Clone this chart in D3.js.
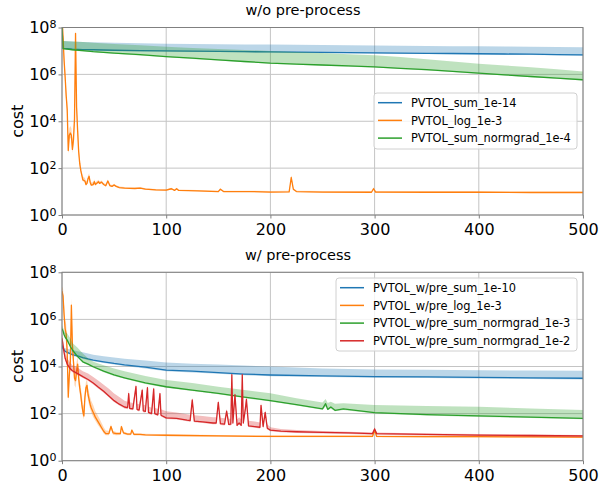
<!DOCTYPE html>
<html lang="en">
<head>
<meta charset="UTF-8" />
<title>PVTOL cost</title>
<script src="https://cdn.jsdelivr.net/npm/d3@7"></script>
<style>
  body { margin: 0; background: #fff; }
  svg text { font-family: "DejaVu Sans", sans-serif; fill: #000; }
</style>
</head>
<body>
<svg id="chart" width="600" height="486"></svg>
<script>
// ticks
var xTicks = [0, 100, 200, 300, 400, 500];
var yTickExp = [0, 2, 4, 6, 8];

// ---- w/o pre-process (values are log10 of cost) ----
var topSumX = [0,1,5,10,20,30,50,75,100,125,150,175,200,225,250,275,300,325,350,375,400,425,450,475,500];
var topSumMean = [8.0,7.11,7.1,7.08,7.06,7.05,7.03,7.01,7.0,6.99,6.98,6.97,6.96,6.95,6.94,6.93,6.92,6.91,6.90,6.89,6.88,6.87,6.86,6.845,6.83];
var topSumLo = [8.0,7.08,7.07,7.05,7.03,7.02,7.0,6.98,6.97,6.96,6.95,6.94,6.93,6.92,6.91,6.9,6.89,6.88,6.87,6.86,6.85,6.84,6.83,6.815,6.8];
var topSumHi = [8.0,7.42,7.41,7.4,7.38,7.37,7.35,7.33,7.31,7.3,7.29,7.28,7.27,7.26,7.25,7.24,7.23,7.22,7.21,7.2,7.2,7.19,7.18,7.17,7.16];

var topLogX = [0,1,2,3,4,5,6,7,8,9,10,11,12,13,14,15,16,17,18,19,20,
  22,23,24,25,26,27,28,30,31,32,34,35,36,38,40,42,44,46,48,50,52,55,60,
  70,75,80,90,100,105,108,110,112,130,150,152,155,180,200,218,220,222,225,250,
  297,299,301,350,400,450,500];
var topLogMean = [8.5,7.6,6.6,5.9,5.1,4.5,2.75,3.4,3.5,3.4,2.8,3.2,4.1,7.75,4.6,3.6,2.7,2.2,1.9,1.7,1.5,
  1.45,1.3,1.35,1.55,1.65,1.4,1.28,1.3,1.42,1.3,1.38,1.42,1.35,1.4,1.3,1.25,1.45,1.25,1.22,1.28,1.22,1.17,1.15,
  1.13,1.15,1.1,1.07,1.06,1.12,1.05,1.12,1.05,1.03,1.0,1.1,1.0,1.0,0.98,0.99,1.6,1.1,1.0,0.98,
  0.97,1.12,0.98,0.97,0.97,0.96,0.96];
var topLogHi = [8.5,7.8,6.9,6.2,5.4,4.8,3.2,3.7,3.8,3.7,3.2,3.5,4.5,7.9,5.0,4.0,3.0,2.45,2.1,1.85,1.65,
  1.58,1.43,1.48,1.68,1.78,1.52,1.4,1.4,1.52,1.4,1.46,1.5,1.43,1.47,1.37,1.32,1.52,1.31,1.28,1.33,1.27,1.22,1.2,
  1.17,1.19,1.14,1.11,1.1,1.16,1.09,1.16,1.09,1.07,1.04,1.14,1.04,1.04,1.02,1.03,1.7,1.15,1.04,1.02,
  1.01,1.18,1.02,1.01,1.01,1.0,1.0];
var topLogLo = [8.4,7.4,6.3,5.6,4.8,4.2,2.6,3.2,3.3,3.2,2.65,3.0,3.8,7.5,4.3,3.4,2.55,2.1,1.82,1.63,1.44,
  1.4,1.25,1.3,1.48,1.58,1.35,1.24,1.26,1.37,1.26,1.34,1.37,1.31,1.35,1.27,1.22,1.4,1.22,1.19,1.24,1.19,1.14,1.13,
  1.11,1.13,1.08,1.05,1.04,1.09,1.03,1.09,1.03,1.01,0.98,1.07,0.98,0.98,0.96,0.97,1.5,1.07,0.98,0.96,
  0.95,1.08,0.96,0.95,0.95,0.94,0.94];

var topNgMean = [8.0,7.1,7.08,7.05,7.01,6.97,6.91,6.84,6.76,6.69,6.62,6.55,6.48,6.44,6.40,6.36,6.32,6.26,6.2,6.13,6.05,5.98,5.91,5.84,5.77];
var topNgLo = [8.0,7.07,7.05,7.02,6.98,6.94,6.88,6.81,6.73,6.66,6.59,6.52,6.45,6.41,6.37,6.33,6.29,6.23,6.17,6.1,6.02,5.95,5.88,5.81,5.74];
var topNgHi = [8.0,7.42,7.41,7.4,7.38,7.35,7.3,7.24,7.18,7.13,7.08,7.04,7.0,6.96,6.91,6.86,6.82,6.74,6.65,6.55,6.45,6.38,6.3,6.22,6.12];

// ---- w/ pre-process ----
var botSumX = [0,1,2,3,5,8,10,15,20,25,30,40,50,60,80,100,125,150,175,200,250,300,350,400,450,500];
var botSumMean = [4.9,4.75,4.7,4.65,4.6,4.55,4.5,4.45,4.38,4.32,4.27,4.2,4.13,4.07,3.97,3.85,3.8,3.74,3.68,3.64,3.6,3.57,3.56,3.54,3.52,3.5];
var botSumLo = [4.85,4.7,4.65,4.6,4.55,4.5,4.45,4.4,4.33,4.27,4.22,4.15,4.08,4.02,3.92,3.8,3.75,3.69,3.63,3.59,3.55,3.52,3.51,3.49,3.47,3.45];
var botSumHi = [5.0,4.85,4.8,4.78,4.75,4.72,4.7,4.65,4.6,4.55,4.5,4.44,4.38,4.33,4.25,4.17,4.12,4.08,4.04,4.0,3.92,3.87,3.86,3.84,3.83,3.82];

var botLogX = [0,1,2,3,4,5,6,7,8,9, 10,11,12,13,14,15,16,17,18,19,
  20,21,22,23,24,25,26,27,28,30, 32,34,36,38,40,42,45,47,49,52,
  56,57,59,63,66,67,69,75,80,100, 150,200,250,298,300,302,350,400,450,500];
var botLogMean = [7.2,7.0,6.2,5.6,5.4,4.6,2.7,3.6,4.2,6.6, 4.9,4.2,3.5,3.4,3.8,4.1,3.5,3.1,2.8,2.4,
  2.1,1.9,2.7,3.1,3.2,2.8,2.6,2.4,2.25,2.05, 1.85,1.7,1.55,1.4,1.25,1.15,1.15,1.45,1.18,1.15,
  1.15,1.45,1.18,1.13,1.13,1.3,1.12,1.12,1.1,1.08, 1.05,1.03,1.03,1.03,1.3,1.03,1.02,1.02,1.01,1.0];
var botLogHi = [7.4,7.3,6.6,6.0,5.8,5.0,3.2,4.0,4.6,6.9, 5.3,4.6,3.9,3.8,4.2,4.4,3.85,3.45,3.15,2.75,
  2.45,2.3,3.0,3.35,3.45,3.1,2.9,2.7,2.55,2.35, 2.1,1.95,1.78,1.6,1.42,1.28,1.27,1.55,1.27,1.22,
  1.21,1.52,1.24,1.18,1.18,1.36,1.17,1.16,1.14,1.12, 1.09,1.07,1.07,1.07,1.38,1.07,1.06,1.06,1.05,1.04];
var botLogLo = [7.0,6.7,5.9,5.3,5.1,4.3,2.5,3.3,3.9,6.3, 4.6,3.9,3.2,3.1,3.5,3.8,3.2,2.85,2.55,2.2,
  1.9,1.75,2.45,2.85,2.95,2.55,2.35,2.2,2.05,1.85, 1.7,1.55,1.42,1.3,1.16,1.08,1.08,1.35,1.1,1.08,
  1.09,1.37,1.12,1.08,1.08,1.22,1.07,1.07,1.06,1.04, 1.02,1.0,1.0,1.0,1.2,1.0,0.99,0.99,0.98,0.97];

var botNg3X = [0,1,2,3,5,8,10,15,20,25,30,40,50,60,80,100,125,150,175,200,225,250,253,255,258,262,270,300,350,400,450,500];
var botNg3Mean = [5.6,5.5,5.35,5.25,5.12,4.85,4.7,4.42,4.2,4.1,3.99,3.8,3.64,3.52,3.3,3.14,3.0,2.86,2.7,2.55,2.38,2.2,2.42,2.18,2.28,2.14,2.2,2.04,1.96,1.9,1.85,1.8];
var botNg3Lo = [5.56,5.46,5.31,5.21,5.08,4.81,4.66,4.38,4.16,4.06,3.95,3.76,3.6,3.48,3.26,3.1,2.96,2.82,2.66,2.51,2.34,2.16,2.3,2.14,2.22,2.1,2.15,2.0,1.92,1.86,1.81,1.76];
var botNg3Hi = [5.75,5.65,5.55,5.45,5.4,5.2,5.0,4.8,4.55,4.35,4.2,4.05,3.92,3.8,3.6,3.43,3.3,3.14,3.0,2.86,2.65,2.47,2.62,2.45,2.5,2.42,2.44,2.37,2.32,2.29,2.22,2.15];

var botNg2X = [0,1,2,3,5,8,10,15,20,25, 30,35,40,45,50,55,60,63,64,65,
  68,71,72,74,77,78,80,82,83,86, 88,89,92,94,95,100,110,120,123,125,
  127,135,145,148,150,152,156,158,160,162, 163,164,166,168,170,172,173,174,176,177,
  179,185,190,191,193,195,197,200,210,225, 250,275,298,300,302,350,400,450,500];
var botNg2Mean = [5.2,4.9,4.6,4.35,4.1,3.9,3.82,3.7,3.57,3.45, 3.3,3.12,2.95,2.75,2.55,2.4,2.28,2.25,2.85,2.22,
  2.2,3.15,2.18,2.15,3.0,2.12,2.1,3.1,2.05,2.0, 3.05,2.0,1.95,2.85,1.93,1.82,1.8,1.72,1.7,2.58,
  1.68,1.65,1.6,1.6,2.48,1.57,1.55,2.1,1.54,1.55, 3.65,1.6,2.8,1.5,1.6,1.5,3.65,1.6,2.2,2.6,
  1.48,1.45,1.42,2.35,1.45,2.05,1.38,1.3,1.26,1.23, 1.2,1.18,1.15,1.35,1.15,1.12,1.09,1.07,1.05];
var botNg2Hi = [5.35,5.1,4.85,4.6,4.35,4.15,4.05,3.95,3.8,3.7, 3.55,3.4,3.22,3.05,2.85,2.7,2.55,2.5,3.0,2.48,
  2.45,3.25,2.42,2.4,3.1,2.38,2.35,3.2,2.3,2.25, 3.15,2.25,2.2,2.95,2.18,2.1,2.05,1.97,1.95,2.68,
  1.93,1.9,1.85,1.85,2.58,1.82,1.8,2.2,1.78,1.78, 3.75,1.85,2.9,1.75,1.85,1.75,3.75,1.85,2.45,2.75,
  1.7,1.66,1.62,2.45,1.62,2.15,1.55,1.42,1.35,1.3, 1.26,1.23,1.2,1.42,1.2,1.16,1.13,1.11,1.09];
var botNg2Lo = [5.1,4.8,4.5,4.28,4.03,3.84,3.76,3.64,3.51,3.39, 3.24,3.06,2.89,2.69,2.49,2.34,2.22,2.19,2.7,2.16,
  2.14,3.0,2.12,2.09,2.85,2.06,2.04,2.95,1.99,1.95, 2.9,1.95,1.9,2.7,1.88,1.77,1.75,1.67,1.65,2.45,
  1.63,1.6,1.55,1.55,2.35,1.52,1.5,2.0,1.49,1.5, 3.5,1.55,2.65,1.45,1.55,1.45,3.5,1.55,2.1,2.5,
  1.43,1.4,1.37,2.25,1.4,1.95,1.33,1.25,1.21,1.18, 1.15,1.13,1.1,1.28,1.1,1.07,1.04,1.02,1.0];

var blue = "#1f77b4", orange = "#ff7f0e", green = "#2ca02c", red = "#d62728";

function makeSeries(name, color, xs, mean, lo, hi) {
  return {
    name: name, color: color,
    pts: xs.map(function(x, i) {
      return { x: x, m: Math.pow(10, mean[i]), lo: Math.pow(10, lo[i]), hi: Math.pow(10, hi[i]) };
    })
  };
}

var panels = [
  {
    id: "top", title: "w/o pre-process", titleX: 303, titleY: 15,
    top: 27.5, bottom: 215,
    legend: { x: 374, y: 93, w: 203, h: 56 },
    series: [
      makeSeries("PVTOL_sum_1e-14", blue, topSumX, topSumMean, topSumLo, topSumHi),
      makeSeries("PVTOL_log_1e-3", orange, topLogX, topLogMean, topLogLo, topLogHi),
      makeSeries("PVTOL_sum_normgrad_1e-4", green, topSumX, topNgMean, topNgLo, topNgHi)
    ]
  },
  {
    id: "bot", title: "w/ pre-process", titleX: 298, titleY: 260,
    top: 272.3, bottom: 460.7,
    legend: { x: 336, y: 278, w: 241, h: 73 },
    series: [
      makeSeries("PVTOL_w/pre_sum_1e-10", blue, botSumX, botSumMean, botSumLo, botSumHi),
      makeSeries("PVTOL_w/pre_log_1e-3", orange, botLogX, botLogMean, botLogLo, botLogHi),
      makeSeries("PVTOL_w/pre_sum_normgrad_1e-3", green, botNg3X, botNg3Mean, botNg3Lo, botNg3Hi),
      makeSeries("PVTOL_w/pre_sum_normgrad_1e-2", red, botNg2X, botNg2Mean, botNg2Lo, botNg2Hi)
    ]
  }
];

var svg = d3.select("#chart");
var left = 62, right = 583;
var spine = "#808080";

panels.forEach(function(p) {
  var g = svg.append("g");
  var x = d3.scaleLinear().domain([0, 500]).range([left, right]);
  var y = d3.scaleLog().domain([1, 1e8]).range([p.bottom, p.top]);
  var yTicks = yTickExp.map(function(e) { return Math.pow(10, e); });

  // grid
  g.append("g").selectAll("line").data(xTicks).join("line")
    .attr("x1", x).attr("x2", x).attr("y1", p.top).attr("y2", p.bottom)
    .attr("stroke", "#c4c4c4").attr("stroke-width", 1);
  g.append("g").selectAll("line").data(yTicks).join("line")
    .attr("x1", left).attr("x2", right).attr("y1", y).attr("y2", y)
    .attr("stroke", "#c4c4c4").attr("stroke-width", 1);

  svg.append("clipPath").attr("id", "clip-" + p.id)
    .append("rect").attr("x", left).attr("y", p.top)
    .attr("width", right - left).attr("height", p.bottom - p.top);
  var plot = g.append("g").attr("clip-path", "url(#clip-" + p.id + ")");

  var area = d3.area().x(function(d) { return x(d.x); })
    .y0(function(d) { return y(d.lo); }).y1(function(d) { return y(d.hi); });
  var line = d3.line().x(function(d) { return x(d.x); }).y(function(d) { return y(d.m); });

  p.series.forEach(function(s) {
    plot.append("path").datum(s.pts).attr("d", area)
      .attr("fill", s.color).attr("fill-opacity", 0.3).attr("stroke", "none");
    plot.append("path").datum(s.pts).attr("d", line)
      .attr("fill", "none").attr("stroke", s.color).attr("stroke-width", 1.3)
      .attr("stroke-linejoin", "round");
  });

  // spines
  g.append("rect").attr("x", left).attr("y", p.top)
    .attr("width", right - left).attr("height", p.bottom - p.top)
    .attr("fill", "none").attr("stroke", spine).attr("stroke-width", 1);

  // x axis
  var gx = g.append("g").attr("transform", "translate(0," + p.bottom + ")")
    .call(d3.axisBottom(x).tickValues(xTicks).tickSize(3.5).tickPadding(5));
  gx.select(".domain").remove();
  gx.selectAll(".tick line").attr("stroke", spine);
  gx.selectAll(".tick text").attr("font-size", 16);

  // y axis with 10^n labels
  var gy = g.append("g").attr("transform", "translate(" + left + ",0)")
    .call(d3.axisLeft(y).tickValues(yTicks).tickSize(3.5).tickPadding(2).tickFormat(""));
  gy.select(".domain").remove();
  gy.selectAll(".tick line").attr("stroke", spine);
  gy.selectAll(".tick text").each(function(d) {
    var t = d3.select(this).attr("font-size", 16);
    t.append("tspan").text("10");
    t.append("tspan").attr("dy", -5).attr("font-size", 11)
      .text(Math.round(Math.log10(d)));
  });

  // title + ylabel
  svg.append("text").attr("x", p.titleX).attr("y", p.titleY)
    .attr("text-anchor", "middle").attr("font-size", 14.5).text(p.title);
  svg.append("text")
    .attr("transform", "translate(23," + ((p.top + p.bottom) / 2) + ") rotate(-90)")
    .attr("text-anchor", "middle").attr("font-size", 16).text("cost");

  // legend
  var L = p.legend;
  var lg = svg.append("g");
  lg.append("rect").attr("x", L.x).attr("y", L.y).attr("width", L.w).attr("height", L.h)
    .attr("rx", 3).attr("fill", "#fff").attr("fill-opacity", 0.8)
    .attr("stroke", "#d0d0d0").attr("stroke-width", 1);
  p.series.forEach(function(s, i) {
    var cy = L.y + 9.7 + i * 17.7;
    lg.append("line").attr("x1", L.x + 4).attr("x2", L.x + 28)
      .attr("y1", cy).attr("y2", cy).attr("stroke", s.color).attr("stroke-width", 1.5);
    lg.append("text").attr("x", L.x + 37).attr("y", cy + 4.2)
      .attr("font-size", 11.4).text(s.name);
  });
});
</script>
</body>
</html>
